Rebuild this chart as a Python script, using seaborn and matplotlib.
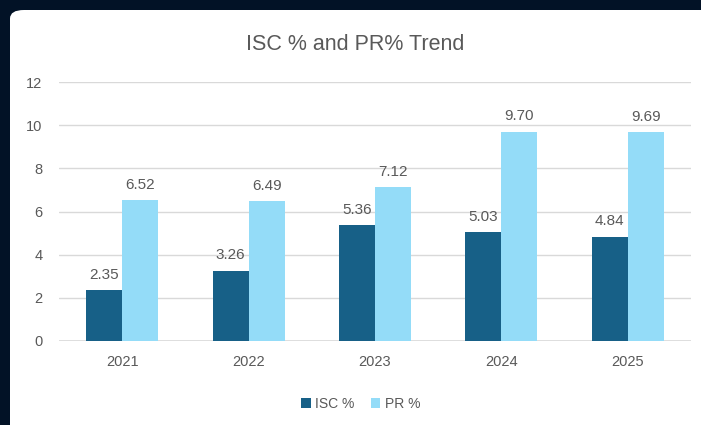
import matplotlib
matplotlib.use("Agg")
import matplotlib.pyplot as plt
import seaborn as sns
import pandas as pd
from matplotlib.patches import FancyBboxPatch

years = ["2021", "2022", "2023", "2024", "2025"]
isc_values = [2.35, 3.26, 5.36, 5.03, 4.84]
pr_values = [6.52, 6.49, 7.12, 9.70, 9.69]
series_names = ["ISC %", "PR %"]
y_ticks = [0, 2, 4, 6, 8, 10, 12]

df = pd.DataFrame({
    "Year": years * 2,
    "Value": isc_values + pr_values,
    "Series": [series_names[0]] * len(years) + [series_names[1]] * len(years),
})

sns.set_theme(style="white")
plt.rcParams["font.family"] = ["Liberation Sans", "DejaVu Sans"]

W, H = 701, 425
fig = plt.figure(figsize=(W / 100, H / 100), dpi=100)
fig.patch.set_facecolor("#021226")

card = FancyBboxPatch((10 / W, -0.05), 1.2, (H - 10) / H + 0.05,
                      boxstyle="round,pad=0,rounding_size=0.02",
                      transform=fig.transFigure, facecolor="white",
                      edgecolor="none", zorder=-5)
fig.patches.append(card)

ax = fig.add_axes([59 / W, (H - 341) / H, (691 - 59) / W, (341 - 82) / H])
ax.set_zorder(2)
ax.set_facecolor("none")

palette = {"ISC %": "#176087", "PR %": "#94DCF8"}
sns.barplot(data=df, x="Year", y="Value", hue="Series", palette=palette,
            width=0.57, gap=0, saturation=1, ax=ax, legend=True, zorder=3,
            linewidth=0, edgecolor="none")

for cont in ax.containers:
    ax.bar_label(cont, fmt="%.2f", padding=6, fontsize=11, color="#595959")

ax.set_ylim(0, 12)
ax.set_xlim(-0.5, 4.5)
ax.set_yticks(y_ticks)
ax.yaxis.grid(True, color="#D9D9D9", linewidth=1)
ax.set_axisbelow(True)
for s in ax.spines.values():
    s.set_visible(False)
ax.axhline(0, color="#D9D9D9", linewidth=1.2, zorder=2)
ax.tick_params(axis="both", length=0, labelsize=10.5, colors="#595959")
ax.tick_params(axis="y", pad=12)
ax.tick_params(axis="x", pad=10)
ax.set_xlabel("")
ax.set_ylabel("")

t = fig.text(0.5 + 5 / W, 1 - 44 / H, "ISC % and PR% Trend", ha="center", va="center",
             fontsize=15.5, color="#595959")
t.set_zorder(5)

leg = ax.legend(loc="center", bbox_to_anchor=(0.5 + 10 / W, 1 - 404 / H),
                bbox_transform=fig.transFigure, ncol=2, frameon=False,
                fontsize=10, handlelength=0.7, handleheight=0.7,
                handletextpad=0.3, columnspacing=1.2)
for tt in leg.get_texts():
    tt.set_color("#595959")

fig.savefig("out.png", dpi=100, facecolor=fig.get_facecolor())
